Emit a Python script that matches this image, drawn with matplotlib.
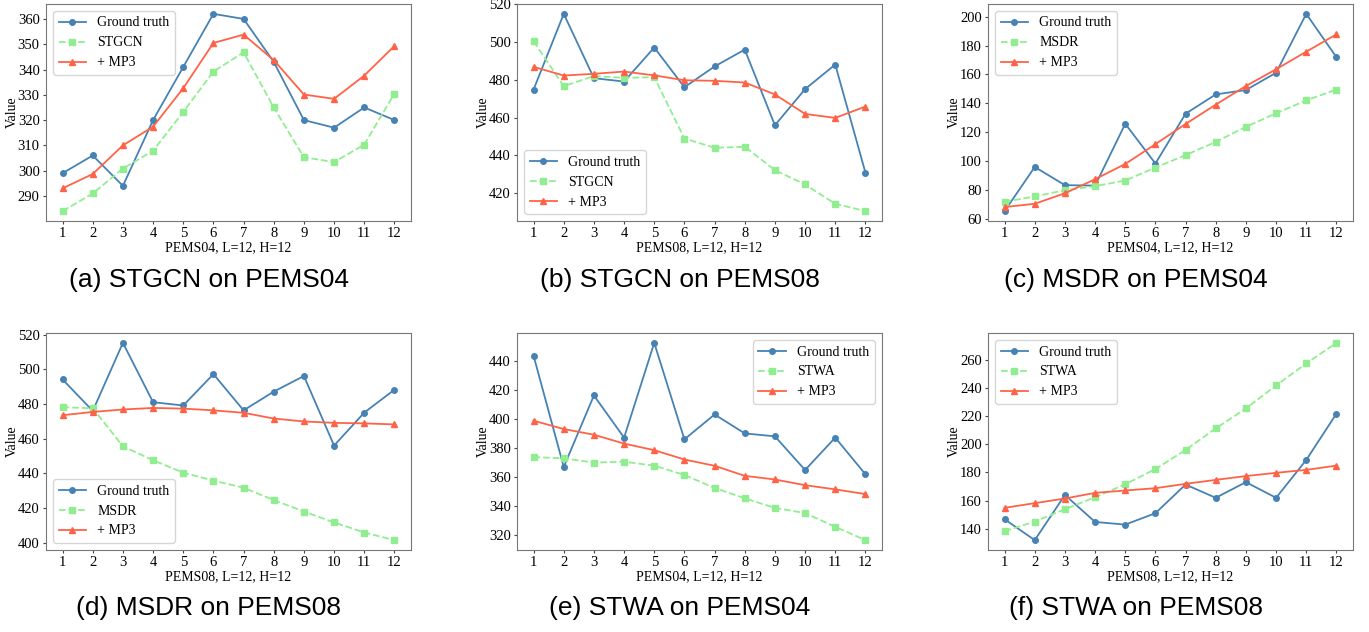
import matplotlib
matplotlib.use("Agg")
import matplotlib.pyplot as plt
from matplotlib.ticker import MultipleLocator

plt.rcParams['font.family'] = ['Liberation Serif', 'DejaVu Serif']

steps = list(range(1, 13))

# (a) STGCN on PEMS04
a_gt = [299, 306, 294, 320, 341, 362, 360, 343, 320, 317, 325, 320]
a_base = [284, 291, 300.8, 307.9, 323.2, 339.2, 346.8, 325, 305.3, 303.4, 310.3, 330.5]
a_mp3 = [293, 298.7, 310, 317.4, 332.6, 350.5, 353.8, 343.7, 330.1, 328.4, 337.6, 349.3]

# (b) STGCN on PEMS08
b_gt = [474.8, 514.8, 480.8, 479, 497, 476, 487, 495.9, 455.9, 475, 488, 430.9]
b_base = [500.3, 476.6, 481.9, 481, 481.3, 448.9, 444, 444.5, 432.2, 424.6, 414.4, 410.5]
b_mp3 = [486.8, 482.2, 483.1, 484.3, 482.3, 479.7, 479.4, 478.5, 472.2, 461.9, 459.8, 465.8]

# (c) MSDR on PEMS04
c_gt = [65.3, 95.9, 83.3, 83, 125.8, 98.3, 132.8, 146.2, 149.2, 161.2, 202, 172]
c_base = [71.8, 75.5, 79.8, 82.6, 86.5, 95.5, 104.1, 113.3, 123.7, 133.1, 142.1, 149.5]
c_mp3 = [68.1, 70.4, 77.7, 87.4, 98, 111.7, 125.7, 139.1, 152, 163.6, 175.8, 187.8]

# (d) MSDR on PEMS08
d_gt = [494.1, 476, 515.2, 481, 479.1, 497.2, 476.3, 487.1, 496.1, 456, 475, 488.2]
d_base = [478.1, 477.5, 455.6, 447.5, 440.4, 435.8, 431.7, 424.6, 418, 411.7, 405.9, 401.5]
d_mp3 = [473.5, 475.4, 476.8, 477.7, 477.3, 476.3, 474.9, 471.6, 469.9, 469.1, 468.8, 468.2]

# (e) STWA on PEMS04
e_gt = [443.2, 367, 416, 387.1, 452.1, 385.9, 403, 390, 388, 364.9, 387.1, 362]
e_base = [373.8, 372.9, 370, 370.6, 367.9, 361.5, 352.6, 345.5, 338.9, 335.4, 325.9, 316.8]
e_mp3 = [398.7, 393, 389.1, 383, 378.5, 372.1, 367.8, 360.9, 358.4, 354.5, 351.6, 348.4]

# (f) STWA on PEMS08
f_gt = [146.8, 132, 164, 144.9, 143, 151.1, 171.4, 162, 173.1, 162, 188.8, 221.6]
f_base = [138.3, 145.2, 153.9, 162.4, 171.6, 182.4, 195.9, 211.2, 225.3, 241.6, 257.2, 271.8]
f_mp3 = [154.9, 158.2, 161.5, 165.5, 167.2, 168.8, 171.9, 174.7, 177.4, 179.7, 181.8, 184.8]

panels = [
    ("STGCN", "PEMS04", a_gt, a_base, a_mp3, "upper left", 10, "(a) STGCN on PEMS04"),
    ("STGCN", "PEMS08", b_gt, b_base, b_mp3, "lower left", 20, "(b) STGCN on PEMS08"),
    ("MSDR", "PEMS04", c_gt, c_base, c_mp3, "upper left", 20, "(c) MSDR on PEMS04"),
    ("MSDR", "PEMS08", d_gt, d_base, d_mp3, "lower left", 20, "(d) MSDR on PEMS08"),
    ("STWA", "PEMS04", e_gt, e_base, e_mp3, "upper right", 20, "(e) STWA on PEMS04"),
    ("STWA", "PEMS08", f_gt, f_base, f_mp3, "upper left", 20, "(f) STWA on PEMS08"),
]

W, H = 1369, 632
fig = plt.figure(figsize=(W / 100, H / 100), dpi=100)

lefts = [46, 517, 988]
tops = [4, 333]
aw, ah = 365, 217
cap_x = [209, 680, 1136]
cap_y = [280, 608]

for i, (model, ds, gt, base, mp3, loc, step, cap) in enumerate(panels):
    r, c = divmod(i, 3)
    ax = fig.add_axes([lefts[c] / W, 1 - (tops[r] + ah) / H, aw / W, ah / H])
    ax.plot(steps, gt, color='steelblue', marker='o', markersize=4, linewidth=1.3, label='Ground truth')
    ax.plot(steps, base, color='lightgreen', marker='s', markersize=4, linewidth=1.3, linestyle='--', label=model)
    ax.plot(steps, mp3, color='tomato', marker='^', markersize=4, linewidth=1.3, label='+ MP3')
    ax.set_xticks(steps)
    ax.yaxis.set_major_locator(MultipleLocator(step))
    ax.tick_params(labelsize=10.5, length=2.5, pad=2, color='#444444')
    ax.set_xlabel(f"{ds}, L=12, H=12", fontsize=10, labelpad=1)
    ax.set_ylabel("Value", fontsize=10)
    ax.yaxis.set_label_coords(-27 / aw, 0.5)
    for s in ax.spines.values():
        s.set_color('#777777')
    ax.legend(loc=loc, fontsize=10, frameon=True, handlelength=2.0)
    fig.text(cap_x[c] / W, 1 - cap_y[r] / H, cap, ha='center', va='center',
             fontsize=19, family=['Liberation Sans', 'DejaVu Sans'])

fig.savefig("out.png", dpi=100)
